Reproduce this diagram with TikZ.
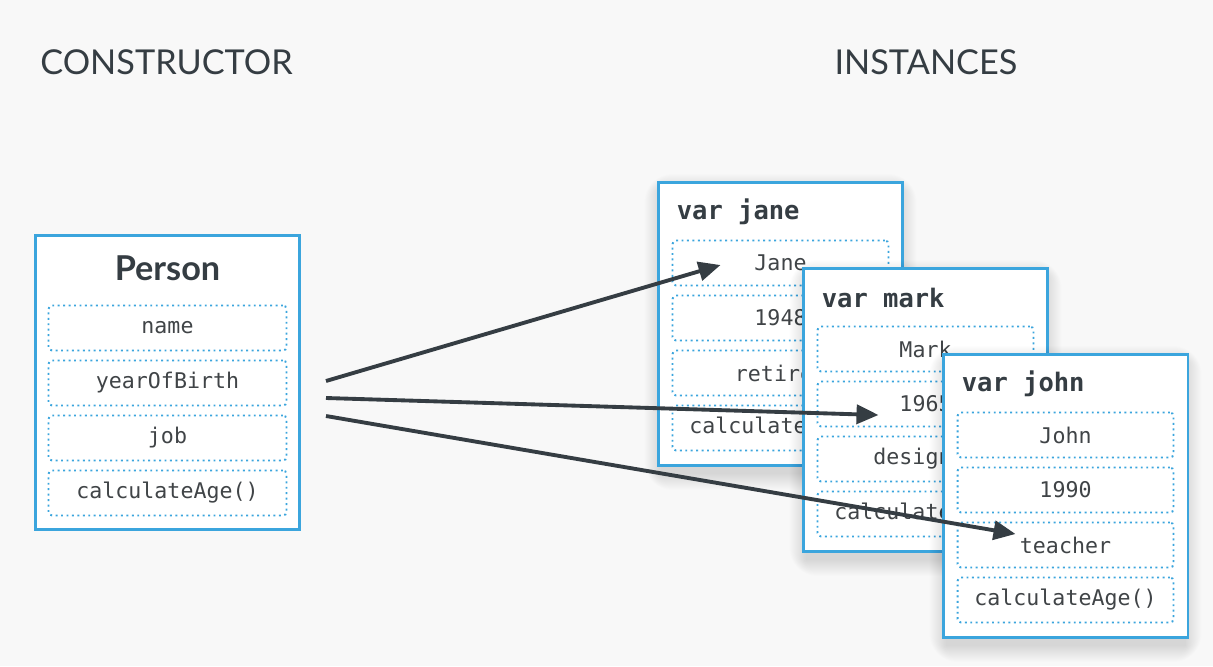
\documentclass[tikz,border=0pt]{standalone}
\usepackage{fontspec}
\setmainfont{Lato}
\setmonofont{DejaVu Sans Mono}
\usetikzlibrary{arrows.meta,positioning}
\definecolor{bg}{HTML}{F8F8F8}
\definecolor{boxblue}{HTML}{3BA5DD}
\definecolor{ink}{HTML}{353D43}
\definecolor{fieldink}{HTML}{404447}
\tikzset{
    objbox/.style={draw=boxblue, line width=1.7pt, fill=white},
    instbox/.style={objbox, minimum width=4.9cm, minimum height=5.68cm},
    shadowlayer/.style={fill=black, fill opacity=0.008},
    field/.style={draw=boxblue, dotted, line width=1.1pt, rounded corners=2pt, inner sep=0pt, outer sep=0pt,
        minimum height=0.9cm, text=fieldink, font=\ttfamily\fontsize{12.3}{14}\selectfont},
    vartitle/.style={inner sep=0pt, text=ink, font=\ttfamily\bfseries\fontsize{14.5}{16}\selectfont},
    heading/.style={inner sep=0pt, text=ink, font=\fontsize{19.5}{22}\selectfont},
    link/.style={draw=ink, line width=2.2pt, -{Triangle[length=0.44cm,width=0.38cm]}}
}
\begin{document}
\begin{tikzpicture}[x=0.02cm, y=-0.02cm]
    \useasboundingbox[fill=bg] (0,0) rectangle (1213,666);
    \node[heading, anchor=west] (constr) at (40,62) {CONSTRUCTOR};
    \node[heading] (inst) at (926,62) {INSTANCES};

    % constructor
    \node[objbox, minimum width=5.3cm, minimum height=5.9cm] (person) at (167.5,382.5) {};
    \node[inner sep=0pt, text=ink, font=\bfseries\fontsize{19.5}{22}\selectfont] (person-t)
        at ([yshift=-0.7cm]person.north) {Person};
    \node[field, minimum width=4.76cm, below=1.44cm of person.north] (person-1) {name};
    \node[field, minimum width=4.76cm, below=0.2cm of person-1] (person-2) {yearOfBirth};
    \node[field, minimum width=4.76cm, below=0.2cm of person-2] (person-3) {job};
    \node[field, minimum width=4.76cm, below=0.2cm of person-3] (person-4) {calculateAge()};

    % instances
    \foreach \n/\x/\y/\first/\year/\job in {
        jane/780.5/324/Jane/1948/retired,
        mark/925.5/410/Mark/1965/designer,
        john/1065.5/496/John/1990/teacher} {
        \foreach \i in {0,...,16}
            \fill[shadowlayer, rounded corners=\i pt] ({\x-120-\i},{\y-134-\i}) rectangle ({\x+120+\i},{\y+150+\i});
        \node[instbox] (\n) at (\x,\y) {};
        \node[vartitle, anchor=west] (\n-t) at ([xshift=0.4cm, yshift=-0.62cm]\n.north west) {var \n};
        \node[field, minimum width=4.32cm, below=1.2cm of \n.north] (\n-1) {\first};
        \node[field, minimum width=4.32cm, below=0.2cm of \n-1] (\n-2) {\year};
        \node[field, minimum width=4.32cm, below=0.2cm of \n-2] (\n-3) {\job};
        \node[field, minimum width=4.32cm, below=0.2cm of \n-3] (\n-4) {calculateAge()};
    }

    \coordinate (from1) at (326,381);
    \coordinate (from2) at (326,398);
    \coordinate (from3) at (326,416);
    \coordinate (to1) at ([xshift=-1.2cm, yshift=-0.04cm]jane-1.center);
    \coordinate (to2) at ([xshift=-0.94cm, yshift=-0.22cm]mark-2.center);
    \coordinate (to3) at ([xshift=-1.0cm, yshift=0.22cm]john-3.center);
    \draw[link] (from1) -- (to1);
    \draw[link] (from2) -- (to2);
    \draw[link] (from3) -- (to3);
\end{tikzpicture}
\end{document}
